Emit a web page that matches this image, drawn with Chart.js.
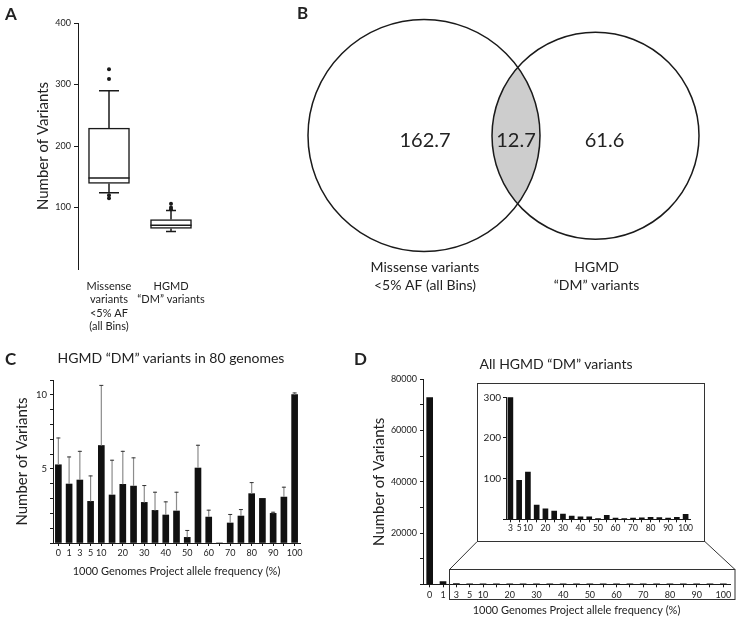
<!DOCTYPE html>
<html><head><meta charset="utf-8">
<script src="https://cdn.jsdelivr.net/npm/chart.js@4"></script>
<style>
html,body{margin:0;padding:0;background:#fff;}
#fig{position:relative;width:739px;height:618px;overflow:hidden;background:#fff;font-family:Lato,'Open Sans',sans-serif;color:#222;}
canvas{position:absolute;}
.txt{position:absolute;white-space:nowrap;line-height:1;}
.letter{font-weight:700;font-size:17px;}
.ptitle{font-size:14px;transform:translate(-50%,-50%);}
</style></head><body>
<div id="fig">
 <canvas id="cA" width="240" height="340" style="left:0;top:0"></canvas>
 <canvas id="cB" width="499" height="340" style="left:240px;top:0"></canvas>
 <canvas id="cC" width="370" height="278" style="left:0;top:340px"></canvas>
 <canvas id="cD" width="369" height="278" style="left:370px;top:340px"></canvas>
 <canvas id="cE" width="228" height="159" style="left:477px;top:383px"></canvas>
 <div class="txt letter" style="left:5px;top:5px">A</div>
 <div class="txt letter" style="left:297px;top:4px">B</div>
 <div class="txt letter" style="left:5px;top:350px">C</div>
 <div class="txt letter" style="left:354px;top:350px">D</div>
 <div class="txt ptitle" style="left:171px;top:358px">HGMD “DM” variants in 80 genomes</div>
 <div class="txt ptitle" style="left:556px;top:364px">All HGMD “DM” variants</div>
</div>
<script>
// ---------------- DATA ----------------
const boxCategories = ['Missense variants <5% AF (all Bins)', 'HGMD “DM” variants'];
const boxTickLines = [['Missense', 'variants', '<5% AF', '(all Bins)'], ['HGMD', '“DM” variants']];
const boxQ1 = [139, 66];
const boxMedian = [148, 71];
const boxQ3 = [229, 80.5];
const whiskerLow = [124, 61];
const whiskerHigh = [290, 95];
const boxOutliers = [[325, 309, 120, 115], [106, 100, 97]];
const boxYTicks = [100, 200, 300, 400];

const vennSetLabels = [['Missense variants', '<5% AF (all Bins)'], ['HGMD', '“DM” variants']];
const vennValues = [162.7, 12.7, 61.6]; // left only, shared, right only

const binLabels = ['0','1','3','5','10','15','20','25','30','35','40','45','50','55','60','65','70','75','80','85','90','95','100'];
const binTickLabels = ['0','1','3','5','10','20','30','40','50','60','70','80','90','100'];
const genomeMeans  = [5.28, 3.98, 4.25, 2.81, 6.58, 3.24, 3.96, 3.84, 2.74, 2.20, 1.89, 2.16, 0.38, 5.06, 1.75, 0, 1.35, 1.82, 3.33, 3.01, 2.00, 3.10, 10.02];
const genomeErrors = [1.84, 1.86, 1.97, 1.75, 4.09, 2.38, 2.26, 1.94, 1.17, 1.26, 0.92, 1.30, 0.50, 1.57, 0.50, 0, 0.61, 0.47, 0.78, 0, 0.11, 0.70, 0.14];
const genomeYTicks = [5, 10];

const allCounts = [72900, 1100, 300, 96, 116, 35, 26, 20.5, 13, 8, 6, 6, 2, 10, 3, 2, 3, 3.5, 5, 4, 3, 5, 12.5];
const allYTicks = [20000, 40000, 60000, 80000];
const insetLabels = binLabels.slice(2);
const insetCounts = allCounts.slice(2);
const insetYTicks = [100, 200, 300];

// ---------------- STYLE ----------------
Chart.defaults.font.family = "Lato, 'Open Sans', sans-serif";
Chart.defaults.color = '#222';
const INK = '#1a1a1a';
const common = {responsive:false, animation:false, events:[],
  plugins:{legend:{display:false}, tooltip:{enabled:false}}};

// ---------------- PANEL A : box plot ----------------
const capWidths = [20, 10];
const boxPlugin = {
  id:'boxWhisk',
  afterDatasetsDraw(chart){
    const {ctx, scales:{x, y}} = chart;
    const meta = chart.getDatasetMeta(0);
    ctx.save(); ctx.strokeStyle = INK; ctx.lineWidth = 1.5;
    boxCategories.forEach((c, i) => {
      const cx = x.getPixelForValue(i), half = meta.data[i].width / 2, ch = capWidths[i] / 2;
      ctx.beginPath();
      ctx.moveTo(cx - half, y.getPixelForValue(boxMedian[i])); ctx.lineTo(cx + half, y.getPixelForValue(boxMedian[i]));
      ctx.moveTo(cx, y.getPixelForValue(boxQ3[i])); ctx.lineTo(cx, y.getPixelForValue(whiskerHigh[i]));
      ctx.moveTo(cx - ch, y.getPixelForValue(whiskerHigh[i])); ctx.lineTo(cx + ch, y.getPixelForValue(whiskerHigh[i]));
      ctx.moveTo(cx, y.getPixelForValue(boxQ1[i])); ctx.lineTo(cx, y.getPixelForValue(whiskerLow[i]));
      ctx.moveTo(cx - ch, y.getPixelForValue(whiskerLow[i])); ctx.lineTo(cx + ch, y.getPixelForValue(whiskerLow[i]));
      ctx.stroke();
    });
    ctx.restore();
  }
};
new Chart(document.getElementById('cA'), {
  type:'bar',
  data:{labels:boxCategories, datasets:[
    {type:'bar', data:boxQ1.map((q, i) => [q, boxQ3[i]]), backgroundColor:'#fff', borderColor:INK, borderWidth:1.5, borderSkipped:false, barThickness:41},
    {type:'scatter', data:boxOutliers.flatMap((arr, i) => arr.map(v => ({x:boxCategories[i], y:v}))), pointRadius:2, pointBackgroundColor:INK, pointBorderWidth:0}
  ]},
  options:{...common, layout:{autoPadding:false, padding:{top:23, right:38, left:0, bottom:0}},
    scales:{
      x:{type:'category', offset:true, grid:{display:false, drawTicks:false}, border:{display:false},
         ticks:{font:{size:11}, padding:11, autoSkip:false, maxRotation:0, callback:(v, i) => boxTickLines[i]},
         afterFit:s => { s.height = 71; }},
      y:{min:0, max:400, afterBuildTicks:s => { s.ticks = boxYTicks.map(v => ({value:v})); },
         grid:{drawOnChartArea:false, tickLength:4, color:INK}, border:{color:INK, width:1},
         ticks:{font:{size:9}, padding:3},
         title:{display:true, text:'Number of Variants', font:{size:15}, padding:{top:34, bottom:0}},
         afterFit:s => { s.width = 78; }}
    }},
  plugins:[boxPlugin]
});

// ---------------- PANEL B : Venn ----------------
const vennLayout = {centers:[[184, 135.5], [355.5, 135.7]], radii:[116, 103.5]};
const vennPlugin = {
  id:'venn',
  beforeDatasetsDraw(chart){
    const els = chart.getDatasetMeta(0).data, ctx = chart.ctx;
    ctx.save();
    ctx.beginPath(); ctx.arc(els[0].x, els[0].y, vennLayout.radii[0], 0, Math.PI * 2); ctx.clip();
    ctx.beginPath(); ctx.arc(els[1].x, els[1].y, vennLayout.radii[1], 0, Math.PI * 2);
    ctx.fillStyle = '#cdcdcd'; ctx.fill();
    ctx.restore();
  },
  afterDatasetsDraw(chart){
    const els = chart.getDatasetMeta(0).data, ctx = chart.ctx, r = vennLayout.radii;
    ctx.save(); ctx.fillStyle = '#222'; ctx.textAlign = 'center'; ctx.textBaseline = 'middle';
    ctx.font = "20px Lato, 'Open Sans', sans-serif";
    ctx.fillText(vennValues[0].toFixed(1), els[0].x + 1, els[0].y + 5);
    ctx.fillText(vennValues[1].toFixed(1), ((els[1].x - r[1]) + (els[0].x + r[0])) / 2, els[0].y + 5);
    ctx.fillText(vennValues[2].toFixed(1), els[1].x + 9, els[1].y + 5);
    ctx.font = "14px Lato, 'Open Sans', sans-serif";
    const baseY = els[0].y + r[0];
    vennSetLabels.forEach((lines, i) => {
      lines.forEach((t, j) => ctx.fillText(t, els[i].x + 1, baseY + 16 + j * 18));
    });
    ctx.restore();
  }
};
new Chart(document.getElementById('cB'), {
  type:'scatter',
  data:{datasets:[{data:vennLayout.centers.map(([x, y]) => ({x, y})), pointRadius:vennLayout.radii,
    pointBackgroundColor:'rgba(0,0,0,0)', pointBorderColor:INK, pointBorderWidth:1.5, clip:false}]},
  options:{...common, layout:{autoPadding:false, padding:0},
    scales:{x:{display:false, min:0, max:499}, y:{display:false, min:0, max:340, reverse:true}}},
  plugins:[vennPlugin]
});

// ---------------- PANEL C : bars with error bars ----------------
const errPlugin = {
  id:'errbars',
  afterDatasetsDraw(chart){
    const {ctx, scales:{y}} = chart;
    const meta = chart.getDatasetMeta(0);
    ctx.save();
    meta.data.forEach((bar, i) => {
      if (!genomeErrors[i]) return;
      const yt = y.getPixelForValue(genomeMeans[i] + genomeErrors[i]);
      ctx.strokeStyle = '#8c8c8c'; ctx.lineWidth = 1.2;
      ctx.beginPath(); ctx.moveTo(bar.x, bar.y); ctx.lineTo(bar.x, yt); ctx.stroke();
      ctx.strokeStyle = '#333'; ctx.lineWidth = 1;
      ctx.beginPath(); ctx.moveTo(bar.x - 2, yt + 0.5); ctx.lineTo(bar.x + 2, yt + 0.5); ctx.stroke();
    });
    ctx.restore();
  }
};
const freqTitle = '1000 Genomes Project allele frequency (%)';
new Chart(document.getElementById('cC'), {
  type:'bar',
  data:{labels:binLabels, datasets:[{data:genomeMeans, backgroundColor:'#111', barThickness:6}]},
  options:{...common, layout:{autoPadding:false, padding:{top:40, right:70, left:0, bottom:0}},
    scales:{
      x:{grid:{drawOnChartArea:false, offset:false, tickLength:3, color:INK}, border:{color:INK},
         ticks:{font:{size:9}, padding:2, autoSkip:false, maxRotation:0,
                callback:(v, i) => binTickLabels.includes(binLabels[i]) ? binLabels[i] : ''},
         title:{display:true, text:freqTitle, font:{size:11}, padding:{top:0, bottom:39.7}},
         afterFit:s => { s.height = 75; }},
      y:{min:0, max:11, grid:{drawOnChartArea:false, tickLength:3, color:INK}, border:{color:INK},
         ticks:{stepSize:1, font:{size:9.5}, padding:3, callback:v => genomeYTicks.includes(v) ? v : ''},
         title:{display:true, text:'Number of Variants', font:{size:15}, padding:{top:12.7, bottom:0}},
         afterFit:s => { s.width = 53; }}
    }},
  plugins:[errPlugin]
});

// ---------------- PANEL D : all HGMD bars + inset ----------------
const decorPlugin = {
  id:'zoomBox',
  afterDraw(chart){
    const ctx = chart.ctx;
    ctx.save(); ctx.strokeStyle = '#333'; ctx.lineWidth = 1;
    ctx.strokeRect(79.5, 229.5, 285.5, 30);
    ctx.beginPath();
    ctx.moveTo(79.5, 229.5); ctx.lineTo(107, 201.7);
    ctx.moveTo(365, 229.5); ctx.lineTo(335, 201.7);
    ctx.stroke(); ctx.restore();
  }
};
new Chart(document.getElementById('cD'), {
  type:'bar',
  data:{labels:binLabels, datasets:[{data:allCounts, backgroundColor:'#111', barThickness:6}]},
  options:{...common, layout:{autoPadding:false, padding:{top:39.3, right:9, left:0, bottom:0}},
    scales:{
      x:{grid:{drawOnChartArea:false, offset:false, tickLength:3, color:INK}, border:{color:INK},
         ticks:{font:{size:9}, padding:2, autoSkip:false, maxRotation:0,
                callback:(v, i) => binTickLabels.includes(binLabels[i]) ? binLabels[i] : ''},
         title:{display:true, text:freqTitle, font:{size:11}, padding:{top:0, bottom:0.7}},
         afterFit:s => { s.height = 33.7; }},
      y:{min:0, max:80000, grid:{drawOnChartArea:false, tickLength:3, color:INK}, border:{color:INK},
         ticks:{stepSize:5000, font:{size:9}, padding:3, callback:v => allYTicks.includes(v) ? v : ''},
         title:{display:true, text:'Number of Variants', font:{size:15}, padding:{top:0, bottom:0}},
         afterFit:s => { s.width = 53; }}
    }},
  plugins:[decorPlugin]
});

const insetFrame = {
  id:'insetFrame',
  beforeDraw(chart){ const c = chart.ctx; c.save(); c.fillStyle = '#fff'; c.fillRect(0, 0, chart.width, chart.height); c.restore(); },
  afterDraw(chart){ const c = chart.ctx; c.save(); c.strokeStyle = '#333'; c.lineWidth = 1; c.strokeRect(0.5, 0.5, chart.width - 1, chart.height - 1); c.restore(); }
};
new Chart(document.getElementById('cE'), {
  type:'bar',
  data:{labels:insetLabels, datasets:[{data:insetCounts, backgroundColor:'#111', barThickness:5}]},
  options:{...common, layout:{autoPadding:false, padding:{top:14.3, right:15, left:0, bottom:0}},
    scales:{
      x:{grid:{drawOnChartArea:false, offset:false, tickLength:3, color:INK}, border:{color:INK},
         ticks:{font:{size:8.5}, padding:1, autoSkip:false, maxRotation:0,
                callback:(v, i) => binTickLabels.includes(insetLabels[i]) ? insetLabels[i] : ''},
         afterFit:s => { s.height = 22.7; }},
      y:{min:0, max:300, grid:{drawOnChartArea:false, tickLength:3, color:INK}, border:{color:INK},
         ticks:{stepSize:100, font:{size:10}, padding:2, callback:v => insetYTicks.includes(v) ? v : ''},
         afterFit:s => { s.width = 29; }}
    }},
  plugins:[insetFrame]
});
</script>
</body></html>
